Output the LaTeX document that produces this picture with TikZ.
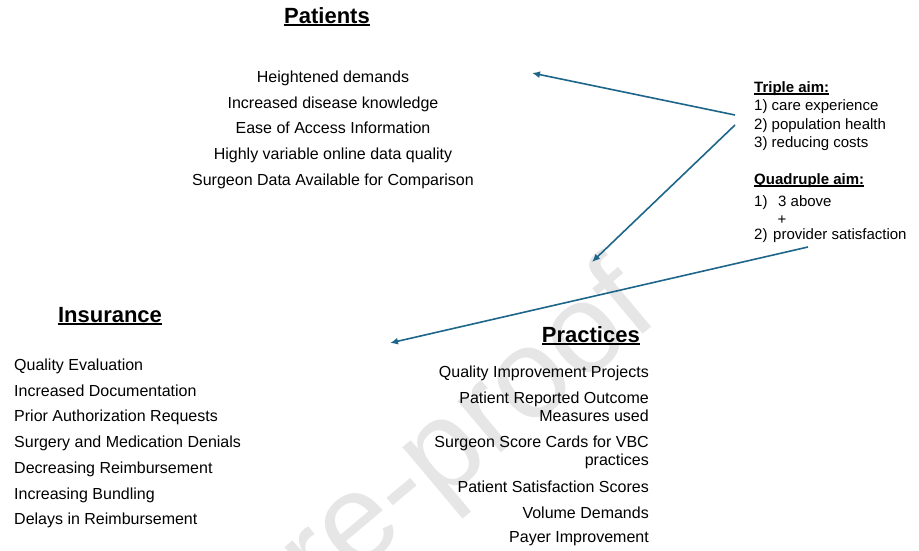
\documentclass[tikz,border=0pt]{standalone}
\usepackage{fontspec}
\setmainfont{Liberation Sans}
\usetikzlibrary{arrows.meta}
\definecolor{linkblue}{HTML}{1D6689}
\definecolor{markgray}{HTML}{E6E6E6}
\tikzset{
  x=1pt, y=-1pt,
  title/.style={inner sep=0pt, font=\fontsize{22}{26}\selectfont\bfseries},
  item/.style={inner sep=0pt, font=\fontsize{16}{19}\selectfont},
  aimtext/.style={inner sep=0pt, anchor=base west, font=\fontsize{15}{18}\selectfont},
  aimhead/.style={aimtext, font=\fontsize{15}{18}\selectfont\bfseries},
  uline/.style={line width=1.6pt},
  thinuline/.style={line width=1.1pt},
  link/.style={draw=linkblue, line width=1.6pt, -{Latex[length=8pt,width=7pt]}},
}
\begin{document}
\begin{tikzpicture}
\useasboundingbox (0,0) rectangle (919,550);

% faint watermark behind everything
\begin{scope}
  \clip (0,0) rectangle (919,550);
  \node[anchor=base east, inner sep=0pt, rotate=40, text=markgray,
        font=\fontsize{127}{132}\selectfont] (wm) at (662,318) {Journal Pre-proof};
\end{scope}

% Patients
\node[title, anchor=base] (pt) at (327,23) {Patients};
\draw[uline] ([yshift=-2pt]pt.base west) -- ([yshift=-2pt]pt.base east);
\node[item, anchor=base] (p1) at (333,82) {Heightened demands};
\node[item, anchor=base] (p2) at (333,108) {Increased disease knowledge};
\node[item, anchor=base] (p3) at (333,133.5) {Ease of Access Information};
\node[item, anchor=base] (p4) at (333,159) {Highly variable online data quality};
\node[item, anchor=base] (p5) at (333,185) {Surgeon Data Available for Comparison};

% Insurance
\node[title, anchor=base] (it) at (110,322) {Insurance};
\draw[uline] ([yshift=-2pt]it.base west) -- ([yshift=-2pt]it.base east);
\node[item, anchor=base west] (i1) at (14,370) {Quality Evaluation};
\node[item, anchor=base west] (i2) at (14,396) {Increased Documentation};
\node[item, anchor=base west] (i3) at (14,421.5) {Prior Authorization Requests};
\node[item, anchor=base west] (i4) at (14,447) {Surgery and Medication Denials};
\node[item, anchor=base west] (i5) at (14,473) {Decreasing Reimbursement};
\node[item, anchor=base west] (i6) at (14,499) {Increasing Bundling};
\node[item, anchor=base west] (i7) at (14,524.5) {Delays in Reimbursement};

% Practices
\node[title, anchor=base east] (prt) at (640,342) {Practices};
\draw[uline] ([yshift=-2pt]prt.base west) -- ([yshift=-2pt]prt.base east);
\node[item, anchor=base east] (r1) at (649,377) {Quality Improvement Projects};
\node[item, anchor=base east] (r2a) at (649,403) {Patient Reported Outcome};
\node[item, anchor=base east] (r2b) at (649,421) {Measures used};
\node[item, anchor=base east] (r3a) at (649,447) {Surgeon Score Cards for VBC};
\node[item, anchor=base east] (r3b) at (649,465) {practices};
\node[item, anchor=base east] (r4) at (649,492) {Patient Satisfaction Scores};
\node[item, anchor=base east] (r5) at (649,518) {Volume Demands};
\node[item, anchor=base east] (r6) at (649,542) {Payer Improvement};

% Triple and quadruple aim
\node[aimhead] (ta) at (754,92) {Triple aim:};
\draw[thinuline] ([yshift=-2pt]ta.base west) -- ([yshift=-2pt]ta.base east);
\node[aimtext] (t1) at (754,110) {1) care experience};
\node[aimtext] (t2) at (754,129) {2) population health};
\node[aimtext] (t3) at (754,147.5) {3) reducing costs};
\node[aimhead] (qa) at (754,184) {Quadruple aim:};
\draw[thinuline] ([yshift=-2pt]qa.base west) -- ([yshift=-2pt]qa.base east);
\node[aimtext] (q1) at (754,206) {\makebox[24pt][l]{1)}3 above};
\node[aimtext, anchor=base] (qp) at (782,224) {+};
\node[aimtext] (q2) at (754,239) {\makebox[19pt][l]{2)}provider satisfaction};

% connectors
\coordinate (s1) at (735,115);
\coordinate (e1) at (532,73);
\coordinate (s2) at (735,125);
\coordinate (e2) at (592,262);
\coordinate (s3) at (808,247);
\coordinate (e3) at (390,343);
\draw[link] (s1) -- (e1);
\draw[link] (s2) -- (e2);
\draw[link] (s3) -- (e3);
\end{tikzpicture}
\end{document}
